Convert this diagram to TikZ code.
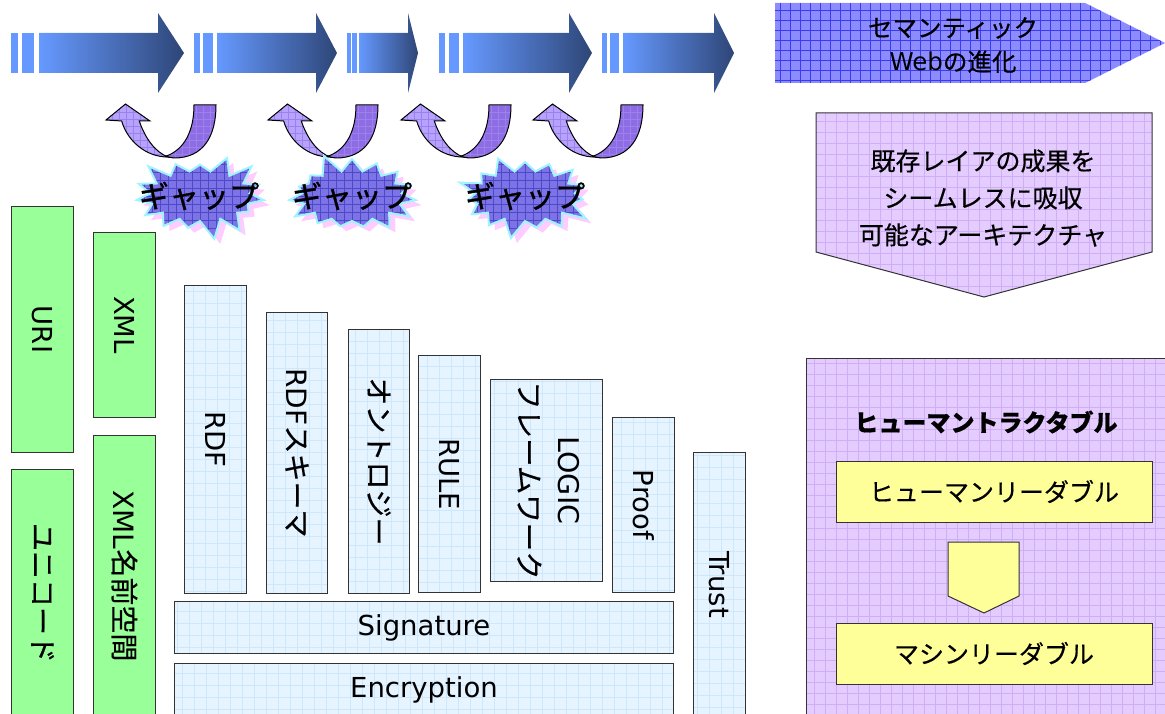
\documentclass[tikz,border=0pt]{standalone}
\usepackage{fontspec}
\usepackage{graphicx}
\setmainfont{Noto Sans CJK JP}[FakeBold=0.4]
\newfontfamily\lat{DejaVu Sans}
\usetikzlibrary{shapes.symbols}
\definecolor{gfill}{HTML}{99FF99}
\definecolor{bfill}{HTML}{E6F4FF}
\definecolor{bgrid}{HTML}{CFE7FA}
\definecolor{pfill}{HTML}{E5CCFF}
\definecolor{pgrid}{HTML}{D0AEF7}
\definecolor{yfill}{HTML}{FFFF99}
\definecolor{evofill}{HTML}{8C8CFF}
\definecolor{evogrid}{HTML}{3A3AEE}
\definecolor{arlight}{HTML}{6699FF}
\definecolor{ardark}{HTML}{2E4677}
\definecolor{ulight}{HTML}{B8A2FF}
\definecolor{udark}{HTML}{8E6CE6}
\definecolor{ugrid}{HTML}{9A82E8}
\definecolor{starfill}{HTML}{7D72E6}
\definecolor{stargrid}{HTML}{4A4AC8}
\definecolor{starglow}{HTML}{A0F4FF}
\definecolor{starpink}{HTML}{FFCCFF}
\definecolor{edge}{HTML}{333333}
\newcommand\vtxt[1]{\rotatebox{-90}{#1}}
\tikzset{
  gridded/.style n args={4}{fill=#1, path picture={\draw[#2, line width=#4] (path picture bounding box.south west) grid[step=#3] (path picture bounding box.north east);}},
  gbox/.style={draw=edge, line width=1pt, fill=gfill, anchor=north west, inner sep=0pt},
  bbox/.style={draw=edge, line width=1pt, gridded={bfill}{bgrid}{12pt}{0.5pt}, anchor=north west, inner sep=0pt},
  ybox/.style={draw=edge, line width=1pt, fill=yfill, inner sep=0pt, font=\fontsize{25}{30}\selectfont},
  lfont/.style={font=\lat\fontsize{27.5}{33}\selectfont},
  jfont/.style={font=\fontsize{28}{33}\selectfont},
  gap/.style={starburst, starburst points=15, starburst point height=20pt, random starburst=#1, minimum width=140pt, minimum height=90pt, inner sep=0pt},
  gaptext/.style={font=\fontsize{30}{32}\selectfont\addfontfeature{FakeBold=1.2}},
  uarrow/.pic={
    \path[gridded={udark}{ugrid}{7pt}{0.35pt}, draw=black, line width=1pt]
      (165,156.5) .. controls (185,150) and (194,130) .. (194,105) -- (216,105)
      .. controls (216,137) and (203,158) .. (174,158) -- cycle;
    \path[gridded={ulight}{ugrid}{7pt}{0.35pt}, draw=black, line width=1pt]
      (121.7,121) .. controls (127,140) and (145,157) .. (168,157)
      .. controls (155,152) and (145,138) .. (139.3,121) -- (150,121) -- (125.5,104) -- (106,120) -- cycle;
  }
}
\newcommand\barrow[7]{%
  \fill[arlight] (#1,33) rectangle (#2,73);
  \fill[arlight] (#3,33) rectangle (#4,73);
  \shade[left color=arlight, right color=ardark] (#5,33) -- (#6,33) -- (#6,13) -- (#7,53) -- (#6,93) -- (#6,73) -- (#5,73) -- cycle;
}
\begin{document}
\begin{tikzpicture}[x=1pt,y=-1pt]
\useasboundingbox (0,0) rectangle (1165,714);
% top arrows
\barrow{11}{18}{22}{34}{39}{158}{184}
\barrow{194}{200}{203}{213}{217}{316}{337}
\barrow{347}{351}{352}{357}{359}{408}{418}
\barrow{439}{445}{449}{459}{463}{569}{592}
\barrow{602}{607}{610}{619}{623}{714}{734}
% evolution pentagon
\path[gridded={evofill}{evogrid}{10pt}{0.4pt}] (775,3) -- (1085,3) -- (1165,43) -- (1085,83) -- (775,83) -- cycle;
\node[align=center, font=\fontsize{24.5}{34}\selectfont] (evo) at (953,45) {セマンティック\\{\lat Web}の進化};
% U-turn arrows
\pic at (0,0) {uarrow};
\pic at (162,0) {uarrow};
\pic at (295,0) {uarrow};
\pic at (427,0) {uarrow};
% gaps
\node[gap=3, fill=starpink] (g1s) at (206,201) {};
\node[gap=3, gridded={starfill}{stargrid}{8pt}{0.4pt}, draw=starglow, line width=2pt] (g1) at (200,196) {};
\node[gaptext] (g1t) at (199,196) {ギャップ};
\node[gap=5, fill=starpink] (g2s) at (358,201) {};
\node[gap=5, gridded={starfill}{stargrid}{8pt}{0.4pt}, draw=starglow, line width=2pt] (g2) at (352,196) {};
\node[gaptext] (g2t) at (352,196) {ギャップ};
\node[gap=9, fill=starpink] (g3s) at (531,201) {};
\node[gap=9, gridded={starfill}{stargrid}{8pt}{0.4pt}, draw=starglow, line width=2pt] (g3) at (525,196) {};
\node[gaptext] (g3t) at (525,196) {ギャップ};
% green boxes
\node[gbox, lfont, minimum width=62pt, minimum height=246pt] (uri) at (11,206) {\vtxt{URI}};
\node[gbox, lfont, minimum width=62pt, minimum height=185pt] (xml) at (93,232) {\vtxt{XML}};
\node[gbox, jfont, minimum width=62pt, minimum height=247pt] (uni) at (11,469) {\vtxt{ユニコード}};
\node[gbox, jfont, minimum width=62pt, minimum height=281pt] (xmlns) at (93,435) {\vtxt{{\lat XML}名前空間}};
% blue boxes
\node[bbox, lfont, minimum width=62pt, minimum height=308pt] (rdf) at (184,285) {\vtxt{RDF}};
\node[bbox, jfont, minimum width=61pt, minimum height=281pt] (rdfs) at (266,312) {\vtxt{{\lat RDF}スキーマ}};
\node[bbox, jfont, minimum width=61pt, minimum height=264pt] (onto) at (348,329) {\vtxt{オントロジー}};
\node[bbox, lfont, minimum width=62pt, minimum height=237pt] (rule) at (418,355) {\vtxt{RULE}};
\node[bbox, font=\fontsize{28.5}{40}\selectfont, minimum width=112pt, minimum height=202pt] (logic) at (490,379) {\vtxt{\begin{tabular}{@{}c@{}}{\lat LOGIC}\\フレームワーク\end{tabular}}};
\node[bbox, lfont, minimum width=62pt, minimum height=175pt] (proof) at (612,417) {\vtxt{Proof}};
\node[bbox, lfont, minimum width=52pt, minimum height=264pt] (trust) at (693,452) {\vtxt{Trust}};
\node[bbox, lfont, minimum width=499pt, minimum height=52pt] (sig) at (174,601) {Signature};
\node[bbox, lfont, minimum width=499pt, minimum height=53pt] (enc) at (174,663) {Encryption};
% right side
\path[gridded={pfill}{pgrid}{11pt}{0.5pt}, draw=edge, line width=1pt] (816,113) -- (1152,113) -- (1152,252) -- (984,297) -- (816,252) -- cycle;
\node[align=center, font=\fontsize{25}{37}\selectfont] (seam) at (983,198) {既存レイアの成果を\\シームレスに吸収\\可能なアーキテクチャ};
\path[gridded={pfill}{pgrid}{11pt}{0.5pt}, draw=edge, line width=1pt] (806,358) rectangle (1175,725);
\node[font=\bfseries\fontsize{24}{28}\selectfont] (ht) at (986,422) {ヒューマントラクタブル};
\node[ybox, minimum width=316pt, minimum height=61pt] (hr) at (994,491.5) {ヒューマンリーダブル};
\path[fill=yfill, draw=edge, line width=1pt] (948,542) -- (1019,542) -- (1019,596) -- (984,613) -- (948,596) -- cycle;
\node[ybox, minimum width=316pt, minimum height=61pt] (mr) at (994,653.5) {マシンリーダブル};
\end{tikzpicture}
\end{document}
